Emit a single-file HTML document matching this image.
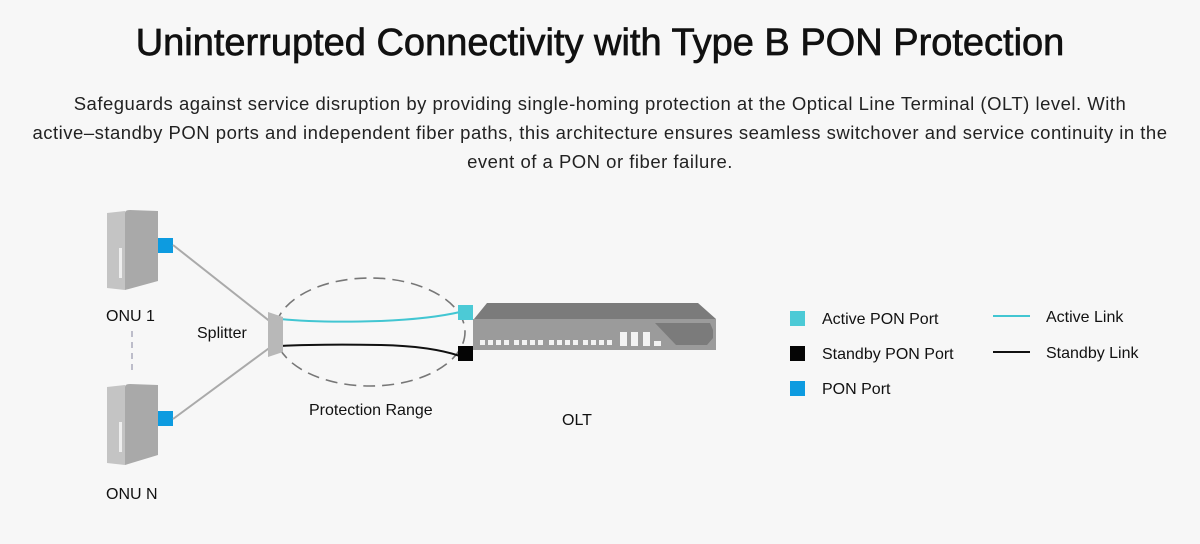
<!DOCTYPE html>
<html><head><meta charset="utf-8"><style>
html,body{margin:0;padding:0;background:#f7f7f7;}
body{width:1200px;height:544px;position:relative;overflow:hidden;font-family:"Liberation Sans",sans-serif;color:#111;}
h1{position:absolute;top:22px;left:0;width:1200px;text-align:center;margin:0;font-size:38px;font-weight:normal;-webkit-text-stroke:0.7px #111;color:#111;}
p{position:absolute;top:89px;left:0;width:1200px;text-align:center;margin:0;font-size:18.5px;letter-spacing:0.5px;line-height:29px;color:#222;white-space:nowrap;}
</style></head><body>
<h1>Uninterrupted Connectivity with Type B PON Protection</h1>
<p>Safeguards against service disruption by providing single-homing protection at the Optical Line Terminal (OLT) level. With<br>active–standby PON ports and independent fiber paths, this architecture ensures seamless switchover and service continuity in the<br>event of a PON or fiber failure.</p>
<svg width="1200" height="544" style="position:absolute;left:0;top:0" font-family="Liberation Sans, sans-serif" font-size="16" fill="#111">
<path d="M107 213 L125 211 L125 290 L107 288 Z" fill="#c4c4c4"/>
<path d="M125 213 Q125 210 130 210 L158 211 L158 281 L125 290 Z" fill="#a9a9a9"/>
<rect x="119" y="248" width="3" height="30" fill="#eee"/>
<rect x="158" y="238" width="15" height="15" fill="#0d9be0"/>
<path d="M107 387 L125 385 L125 465 L107 463 Z" fill="#c4c4c4"/>
<path d="M125 387 Q125 384 130 384 L158 385 L158 455 L125 465 Z" fill="#a9a9a9"/>
<rect x="119" y="422" width="3" height="30" fill="#eee"/>
<rect x="158" y="411" width="15" height="15" fill="#0d9be0"/>
<line x1="132" y1="331" x2="132" y2="372" stroke="#aab" stroke-width="1.5" stroke-dasharray="6,5"/>
<text x="106" y="321">ONU 1</text>
<text x="106" y="499">ONU N</text>
<line x1="173" y1="245" x2="272" y2="323" stroke="#aaa" stroke-width="2"/>
<line x1="173" y1="419" x2="272" y2="346" stroke="#aaa" stroke-width="2"/>
<ellipse cx="370" cy="332" rx="95" ry="54" fill="none" stroke="#777" stroke-width="1.6" stroke-dasharray="12,7"/>
<path d="M280 319 Q320 323 380 321 Q430 319 460 312" fill="none" stroke="#42c6d2" stroke-width="2"/>
<path d="M280 346 Q320 344 380 345 Q430 346 460 356" fill="none" stroke="#111" stroke-width="2"/>
<path d="M268 312 L283 317 L283 352 L268 357 Z" fill="#b8b8b8"/>
<text x="197" y="338">Splitter</text>
<text x="309" y="415">Protection Range</text>
<rect x="458" y="305" width="15" height="15" fill="#4ccad6"/>
<rect x="458" y="346" width="15" height="15" fill="#050505"/>
<path d="M474 319 L487 303 L698 303 L716 319 Z" fill="#7b7b7b"/>
<rect x="473" y="319" width="243" height="31" fill="#9b9b9b"/>
<path d="M655 323 L710 323 L713 330 L713 338 L707 345 L676 345 Z" fill="#7b7b7b"/>
<g fill="#f2f2f2">
<rect x="480" y="340" width="5" height="5"/><rect x="488" y="340" width="5" height="5"/><rect x="496" y="340" width="5" height="5"/><rect x="504" y="340" width="5" height="5"/>
<rect x="514" y="340" width="5" height="5"/><rect x="522" y="340" width="5" height="5"/><rect x="530" y="340" width="5" height="5"/><rect x="538" y="340" width="5" height="5"/>
<rect x="549" y="340" width="5" height="5"/><rect x="557" y="340" width="5" height="5"/><rect x="565" y="340" width="5" height="5"/><rect x="573" y="340" width="5" height="5"/>
<rect x="583" y="340" width="5" height="5"/><rect x="591" y="340" width="5" height="5"/><rect x="599" y="340" width="5" height="5"/><rect x="607" y="340" width="5" height="5"/>
<rect x="620" y="332" width="7" height="14"/><rect x="631" y="332" width="7" height="14"/><rect x="643" y="332" width="7" height="14"/><rect x="654" y="341" width="7" height="5"/>
</g>
<text x="562" y="425">OLT</text>
<rect x="790" y="311" width="15" height="15" fill="#4ccad6"/>
<rect x="790" y="346" width="15" height="15" fill="#050505"/>
<rect x="790" y="381" width="15" height="15" fill="#0d9be0"/>
<text x="822" y="324">Active PON Port</text>
<text x="822" y="359">Standby PON Port</text>
<text x="822" y="394">PON Port</text>
<line x1="993" y1="316" x2="1030" y2="316" stroke="#42c6d2" stroke-width="2"/>
<line x1="993" y1="352" x2="1030" y2="352" stroke="#111" stroke-width="2"/>
<text x="1046" y="322">Active Link</text>
<text x="1046" y="358">Standby Link</text>
</svg>
</body></html>
